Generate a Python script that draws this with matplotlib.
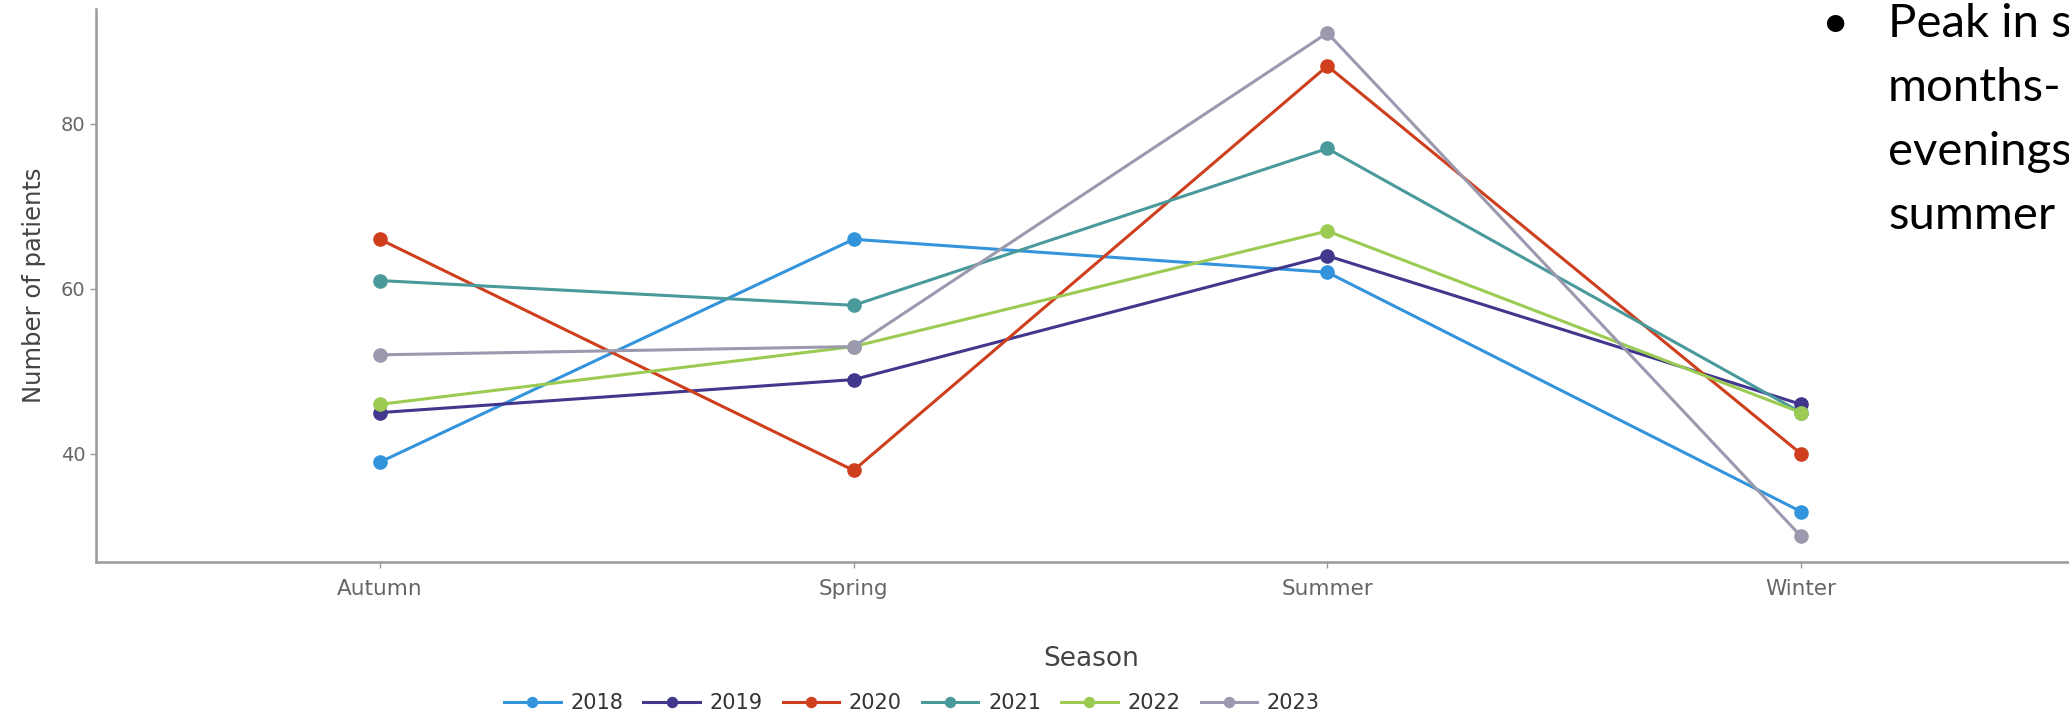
import matplotlib
matplotlib.use("Agg")
import matplotlib.pyplot as plt
from matplotlib.lines import Line2D

seasons = ["Autumn", "Spring", "Summer", "Winter"]
years = ["2018", "2019", "2020", "2021", "2022", "2023"]
v2018 = [39, 66, 62, 33]
v2019 = [45, 49, 64, 46]
v2020 = [66, 38, 87, 40]
v2021 = [61, 58, 77, 45]
v2022 = [46, 53, 67, 45]
v2023 = [52, 53, 91, 30]
series = [v2018, v2019, v2020, v2021, v2022, v2023]
colors = ["#3393db", "#41378d", "#cf3f1d", "#4a9a9b", "#9bcb52", "#9b99ae"]
yticks = [40, 60, 80]
note_lines = ["Peak in summer", "months-", "evenings", "summer"]

W, H = 2069, 717
AX_L = 96
fig = plt.figure(figsize=(W / 100, H / 100), dpi=100)
ax = fig.add_axes([AX_L / W, 1 - 562 / H, 1 - AX_L / W, (562 - 9) / H])

x = list(range(len(seasons)))
for vals, col in zip(series, colors):
    ax.plot(x, vals, color=col, lw=2.2, marker="o", ms=9.5, zorder=3)

ax.set_xlim(-(380 - AX_L) / 474, 3 + (W - 1801) / 474)
ax.set_ylim(26.9, 93.9)
ax.set_xticks(x)
ax.set_xticklabels(seasons)
ax.set_yticks(yticks)
for s in ["top", "right"]:
    ax.spines[s].set_visible(False)
for s in ["left", "bottom"]:
    ax.spines[s].set_color("#9a9a9a")
    ax.spines[s].set_linewidth(1.8)
ax.tick_params(axis="both", colors="#9a9a9a", length=4.5, width=1,
               labelcolor="#666666")
ax.tick_params(axis="x", pad=8, labelsize=15.5)
ax.tick_params(axis="y", pad=3, labelsize=14)
ax.set_ylabel("Number of patients", fontsize=17.5, color="#444444", labelpad=11)
ax.set_xlabel("Season", fontsize=19, color="#444444")
ax.xaxis.set_label_coords((1091 - AX_L) / (W - AX_L), -0.151)

handles = [Line2D([0], [0], color=c, lw=2.2, marker="o", ms=7.2) for c in colors]
fig.legend(handles, years, loc="center", bbox_to_anchor=(912 / W, 1 - 703 / H),
           bbox_transform=fig.transFigure, ncol=6, frameon=False, fontsize=15,
           handlelength=2.7, handletextpad=0.48, columnspacing=0.96,
           labelcolor="#333333", borderpad=0)

fig.text(1835 / W, 1 - 37 / H, "•", fontsize=34, family="Lato", ha="center",
         va="baseline", color="black")
baselines = [37, 101, 165, 229]
for line, b in zip(note_lines, baselines):
    fig.text(1888 / W, 1 - b / H, line, fontsize=34, family="Lato", ha="left",
             va="baseline", color="black")

fig.savefig("out.png", dpi=100)
